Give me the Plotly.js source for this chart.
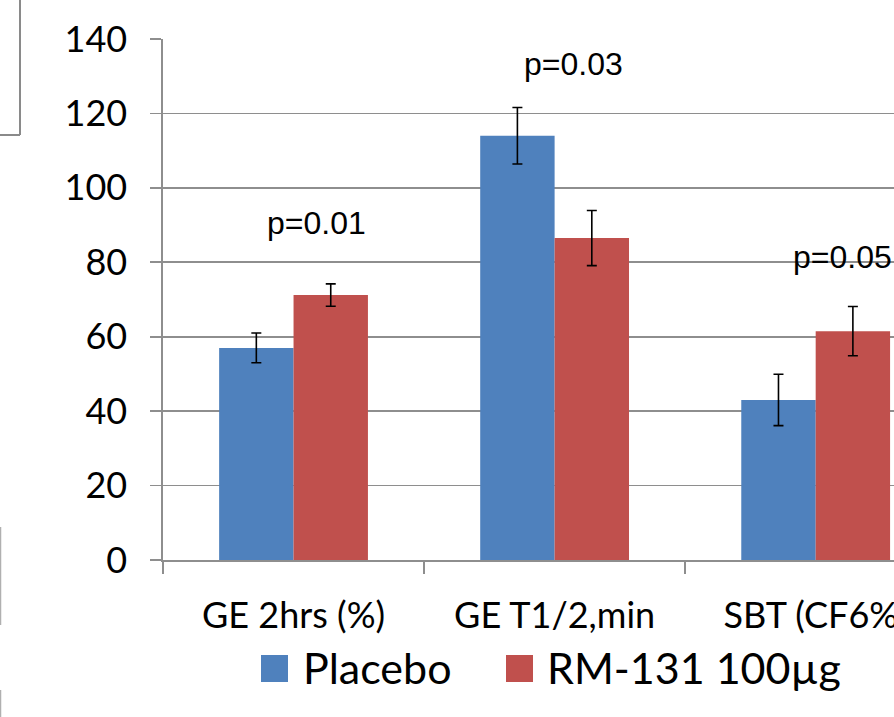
<!DOCTYPE html>
<html>
<head>
<meta charset="utf-8">
<script src="https://cdn.plot.ly/plotly-3.0.1.min.js"></script>
<style>
  html, body { margin: 0; padding: 0; background: #ffffff; }
  #chart { width: 894px; height: 717px; }
</style>
</head>
<body>
<div id="chart"></div>
<script>
// ---- data ----
var categories = ["GE 2hrs (%)", "GE T1/2,min", "SBT (CF6%)"];
var seriesNames = ["Placebo", "RM-131 100\u00b5g"];
var placeboValues = [57, 114, 43];
var placeboErrors = [4, 7.6, 6.9];
var rm131Values = [71.2, 86.5, 61.5];
var rm131Errors = [3, 7.4, 6.6];
var pValueLabels = ["p=0.01", "p=0.03", "p=0.05"];
var yTickValues = [0, 20, 40, 60, 80, 100, 120, 140];

// ---- layout helpers (pixel -> paper) ----
var L = 163, T = 39, W = 894, H = 717, PW = W - L, PB = 560, PH = PB - T;
function px(x) { return (x - L) / PW; }
function py(y) { return (PB - y) / PH; }

var blue = "#4F81BD", red = "#C0504D", grid = "#8E8E8E";

var traces = [
  {
    type: "bar", name: seriesNames[0], x: categories, y: placeboValues,
    marker: { color: blue },
    error_y: { type: "data", array: placeboErrors, visible: true, color: "#000000", thickness: 1.6, width: 5 },
    showlegend: false, hoverinfo: "x+y"
  },
  {
    type: "bar", name: seriesNames[1], x: categories, y: rm131Values,
    marker: { color: red },
    error_y: { type: "data", array: rm131Errors, visible: true, color: "#000000", thickness: 1.6, width: 5 },
    showlegend: false, hoverinfo: "x+y"
  }
];

var pAnn = [
  { x: 0, y: 90.5, text: pValueLabels[0], xanchor: "center", xshift: 23 },
  { x: 1, y: 133.2, text: pValueLabels[1], xanchor: "center", xshift: 19 },
  { x: 2, y: 81.5, text: pValueLabels[2], xanchor: "left", xshift: -25 }
].map(function (a) {
  return {
    xref: "x", yref: "y", x: a.x, y: a.y, text: a.text, showarrow: false,
    xanchor: a.xanchor, yanchor: "middle", xshift: a.xshift,
    font: { family: "Liberation Sans, Arial, sans-serif", size: 32, color: "#000000" }
  };
});

var legendY = 667;
var legendAnn = [
  { x: px(301), text: seriesNames[0] },
  { x: px(545), text: seriesNames[1] }
].map(function (a) {
  return {
    xref: "paper", yref: "paper", x: a.x, y: py(legendY), text: a.text, showarrow: false,
    xanchor: "left", yanchor: "middle",
    font: { family: "Lato, sans-serif", size: 43, color: "#000000" }
  };
});

var shapes = [
  { type: "rect", xref: "paper", yref: "paper", x0: px(261), x1: px(288), y0: py(legendY - 12), y1: py(legendY + 15), fillcolor: blue, line: { width: 0 } },
  { type: "rect", xref: "paper", yref: "paper", x0: px(506), x1: px(533), y0: py(legendY - 12), y1: py(legendY + 15), fillcolor: red, line: { width: 0 } },
  // stray slide-border fragments at the left edge
  { type: "line", xref: "paper", yref: "paper", x0: px(20), x1: px(20), y0: py(0), y1: py(135), line: { color: "#8a8a8a", width: 2 } },
  { type: "line", xref: "paper", yref: "paper", x0: px(0), x1: px(20), y0: py(135), y1: py(135), line: { color: "#8a8a8a", width: 2 } },
  { type: "line", xref: "paper", yref: "paper", x0: px(0.5), x1: px(0.5), y0: py(527), y1: py(625), line: { color: "#b0b0b0", width: 1.5 } },
  { type: "line", xref: "paper", yref: "paper", x0: px(0.5), x1: px(0.5), y0: py(690), y1: py(717), line: { color: "#b0b0b0", width: 1.5 } }
];

var layout = {
  width: W, height: H,
  margin: { l: L, r: 0, t: T, b: H - PB, pad: 0 },
  paper_bgcolor: "#ffffff", plot_bgcolor: "#ffffff",
  barmode: "group", bargap: 0.43, bargroupgap: 0,
  showlegend: false,
  font: { family: "Lato, sans-serif", color: "#000000" },
  xaxis: {
    type: "category", range: [-0.5, 2.3], automargin: false,
    showline: true, linecolor: grid, linewidth: 1.6,
    ticks: "outside", tickson: "boundaries", ticklen: 12, tickwidth: 1.6, tickcolor: grid,
    tickfont: { family: "Lato, sans-serif", size: 36, color: "#000000" },
    ticklabelstandoff: 23, showgrid: false, fixedrange: true
  },
  yaxis: {
    range: [0, 140], tickvals: yTickValues, automargin: false,
    showline: true, linecolor: grid, linewidth: 1.6,
    ticks: "outside", ticklen: 11, tickwidth: 1.6, tickcolor: grid,
    showgrid: true, gridcolor: grid, gridwidth: 1.6, zeroline: false,
    tickfont: { family: "Lato, sans-serif", size: 36, color: "#000000" },
    ticklabelstandoff: 16, fixedrange: true
  },
  annotations: pAnn.concat(legendAnn),
  shapes: shapes
};

Plotly.newPlot("chart", traces, layout, { displayModeBar: false, staticPlot: true });
</script>
</body>
</html>
